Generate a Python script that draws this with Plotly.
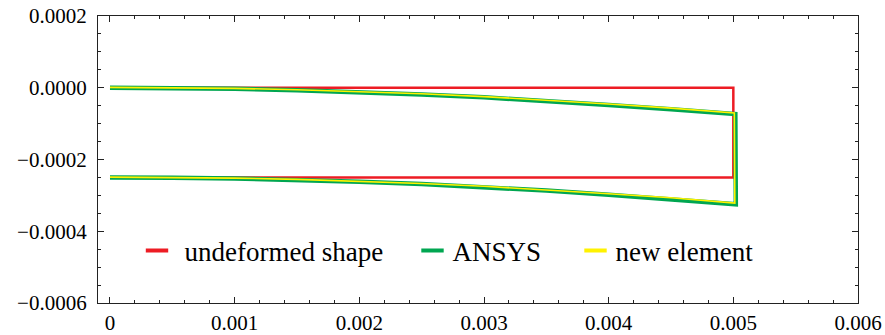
import plotly.graph_objects as go

# ---- data ----
# undeformed shape (top edge -> right edge -> bottom edge)
undeformed_x = [0, 0.005, 0.005, 0]
undeformed_y = [0, 0, -0.00025, -0.00025]

# ANSYS deformed shape
ansys_top_x = [0, 0.0005, 0.001, 0.0015, 0.002, 0.0025, 0.003, 0.0035, 0.004, 0.0045, 0.005016]
ansys_top_y = [0, -0.0000008, -0.0000029, -0.0000067, -0.0000117, -0.0000186, -0.0000267,
               -0.0000366, -0.0000482, -0.0000601, -0.0000735]
ansys_bot_x = [0.005020, 0.0045, 0.004, 0.0035, 0.003, 0.0025, 0.002, 0.0015, 0.001, 0.0005, 0]
ansys_bot_y = [-0.0003250, -0.0003101, -0.0002982, -0.0002866, -0.0002767, -0.0002686,
               -0.0002617, -0.0002567, -0.0002529, -0.0002508, -0.0002500]

# new element deformed shape
new_top_x = [0, 0.0005, 0.001, 0.0015, 0.002, 0.0025, 0.003, 0.0035, 0.004, 0.0045, 0.005008]
new_top_y = [0.0000010, 0.0000002, -0.0000018, -0.0000054, -0.0000102, -0.0000169, -0.0000247,
             -0.0000342, -0.0000453, -0.0000568, -0.0000703]
new_bot_x = [0.005012, 0.0045, 0.004, 0.0035, 0.003, 0.0025, 0.002, 0.0015, 0.001, 0.0005, 0]
new_bot_y = [-0.0003215, -0.0003068, -0.0002953, -0.0002842, -0.0002747, -0.0002669,
             -0.0002602, -0.0002554, -0.0002518, -0.0002498, -0.0002490]

names = ["undeformed shape", "ANSYS", "new element"]
colors = ["#ED1C24", "#00A651", "#FFF200"]

FONT = "Liberation Serif"

fig = go.Figure()

fig.add_trace(go.Scatter(x=undeformed_x, y=undeformed_y, mode="lines",
                         line=dict(color=colors[0], width=2.5), showlegend=False))
fig.add_trace(go.Scatter(x=ansys_top_x + ansys_bot_x, y=ansys_top_y + ansys_bot_y, mode="lines",
                         line=dict(color=colors[1], width=4.5), showlegend=False))
fig.add_trace(go.Scatter(x=new_top_x + new_bot_x, y=new_top_y + new_bot_y, mode="lines",
                         line=dict(color=colors[2], width=1.6), showlegend=False))

# legend entries (short dash markers)
legend_ids = ["legend", "legend2", "legend3"]
for name, col, lid in zip(names, colors, legend_ids):
    fig.add_trace(go.Scatter(x=[None], y=[None], mode="markers", name=name,
                             marker=dict(symbol="line-ew", size=16,
                                         line=dict(color=col, width=4)),
                             legend=lid, showlegend=True))

W, H = 885, 335
ml, mr, mt, mb = 98, 27, 16, 32
PLOT_L, PLOT_T, PLOT_W, PLOT_H = ml, mt, W - ml - mr, H - mt - mb

def px_x(p):
    return (p - PLOT_L) / PLOT_W

def px_y(p):
    return (PLOT_T + PLOT_H - p) / PLOT_H

leg_common = dict(orientation="h", yanchor="middle", xanchor="left",
                  bgcolor="rgba(0,0,0,0)", font=dict(family=FONT, size=27, color="black"))

fig.update_layout(
    width=W, height=H,
    margin=dict(l=ml, r=mr, t=mt, b=mb, autoexpand=False),
    paper_bgcolor="white", plot_bgcolor="white",
    font=dict(family=FONT, size=21, color="black"),
    legend=dict(x=px_x(129.5), y=px_y(251), itemwidth=45, **leg_common),
    legend2=dict(x=px_x(412.5), y=px_y(251), itemwidth=30, **leg_common),
    legend3=dict(x=px_x(575.5), y=px_y(251), itemwidth=30, **leg_common),
)

axis_common = dict(showgrid=False, zeroline=False, showline=True, linecolor="#222",
                   linewidth=1.2, mirror="allticks", ticks="inside", ticklen=6,
                   tickwidth=1.1, tickcolor="#222", automargin=False,
                   ticklabeloverflow="allow",
                   tickfont=dict(family=FONT, size=21, color="black"))

fig.update_xaxes(range=[-0.0000962, 0.006], tick0=0, dtick=0.001,
                 minor=dict(ticks="inside", ticklen=3, dtick=0.0002, tick0=0,
                            tickcolor="#222", tickwidth=1),
                 ticklabelstandoff=1, **axis_common)
fig.update_yaxes(range=[-0.0006, 0.0002], tick0=0, dtick=0.0002, tickformat=".4f",
                 minor=dict(ticks="inside", ticklen=3, dtick=0.00005, tick0=0,
                            tickcolor="#222", tickwidth=1),
                 ticklabelstandoff=6, **axis_common)

fig.write_html("out.html",
               config={"displayModeBar": False},
               post_script="document.body.style.margin='0';document.body.style.overflow='hidden';")
